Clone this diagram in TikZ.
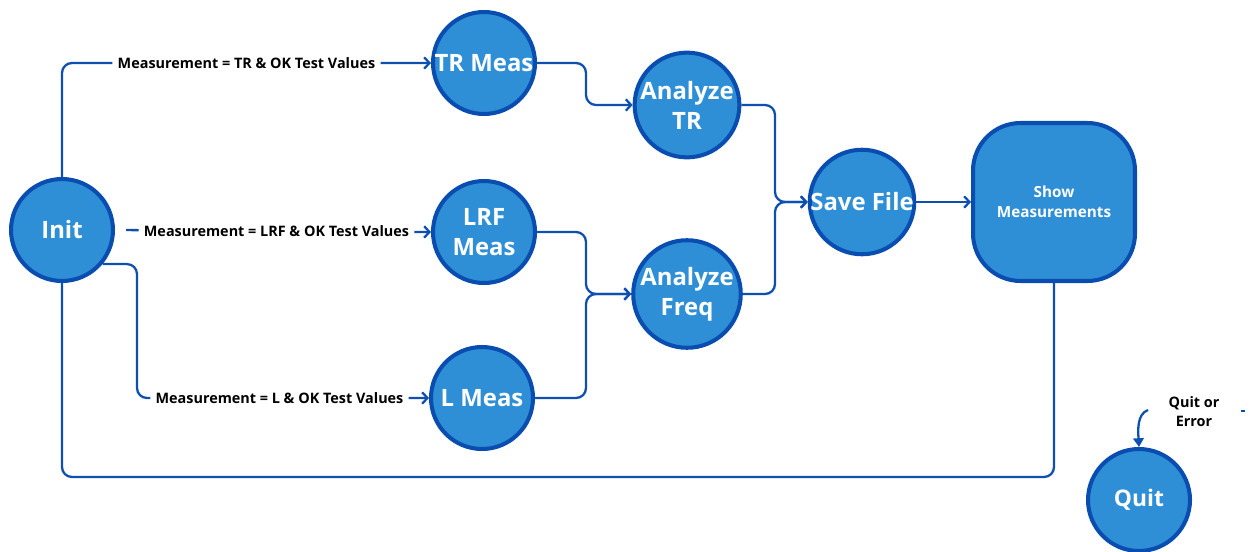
\documentclass[tikz,border=0pt]{standalone}
\usepackage{fontspec}
\setmainfont{Open Sans}
\usetikzlibrary{
  arrows.meta,
  positioning,
  calc
}
\definecolor{fsFill}{HTML}{2E8ED6}
\definecolor{fsEdge}{HTML}{0A4DB0}
\definecolor{fsLine}{HTML}{0E4FB2}
\tikzset{
  fsnode/.style={
    circle, draw=fsEdge, fill=fsFill, line width=2.3pt, minimum size=2.04cm,
    inner sep=0pt, align=center, text=white,
    font=\fontsize{13.6}{17}\selectfont\bfseries
  },
  fsbig/.style={fsnode, rectangle, rounded corners=0.95cm,
    minimum width=3.24cm, minimum height=3.16cm,
    font=\fontsize{8.7}{11.4}\selectfont\bfseries},
  flow/.style={-{Straight Barb[length=3pt,width=6.5pt]}, line width=1.3pt, fsLine, rounded corners=0.2cm},
  backline/.style={line width=1.3pt, fsLine, rounded corners=0.2cm},
  quitflow/.style={-{Triangle[length=5pt,width=6pt]}, line width=1.3pt, fsLine},
  cond/.style={font=\fontsize{8.2}{10}\selectfont\bfseries, text=black, fill=white, inner sep=3pt},
  note/.style={font=\fontsize{8.2}{10.8}\selectfont\bfseries, text=black, align=center}
}
\begin{document}
\begin{tikzpicture}[x=0.02cm, y=-0.02cm]
  \useasboundingbox (0,0) rectangle (1254,551);

  % states
  \node[fsnode] (init) at (62,230) {Init};
  \node[fsnode] (trmeas) at (484,63) {TR Meas};
  \node[fsnode] (lrfmeas) at (484,232) {LRF\\Meas};
  \node[fsnode] (lmeas) at (482,398) {L Meas};
  \node[fsnode] (antr) at (687,105) {Analyze\\TR};
  \node[fsnode] (anfreq) at (687,294) {Analyze\\Freq};
  \node[fsnode] (save) at (862,202) {Save File};
  \node[fsbig] (show) at (1054,202) {Show\\Measurements};
  \node[fsnode, font=\fontsize{13}{15}\selectfont\bfseries] (quit) at (1139,500) {Quit};
  \node[note] (quitnote) at (1194,412) {Quit or\\Error};

  \coordinate (ldrop) at (137,0);
  \coordinate (mjoin) at (586,0);
  \coordinate (sjoin) at (775,0);
  \coordinate (loopy) at (62,477);
  \coordinate (qstart) at (1148,410);

  % measurement branches
  \draw[flow] (init.north) |- node[cond, pos=0.75] {Measurement = TR \& OK Test Values} (trmeas.west);
  \draw[flow, shorten <=0.22cm] (init.east) -- node[cond, xshift=2pt] {Measurement = LRF \& OK Test Values} (lrfmeas.west);
  \draw[flow] (init.-40) -- (init.-40 -| ldrop) |- node[cond, pos=0.75, xshift=-2pt] {Measurement = L \& OK Test Values} (lmeas.west);

  % analysis
  \draw[flow] (trmeas.east) -- (trmeas.east -| mjoin) |- (antr.west);
  \draw[flow] (lrfmeas.east) -- (lrfmeas.east -| mjoin) |- (anfreq.west);
  \draw[flow] (lmeas.east) -- (lmeas.east -| mjoin) |- (anfreq.west);
  \draw[flow] (antr.east) -- (antr.east -| sjoin) |- (save.west);
  \draw[flow] (anfreq.east) -- (anfreq.east -| sjoin) |- (save.west);
  \draw[flow] (save.east) -- (show.west);

  % back to init
  \draw[backline] (show.south) |- (loopy) -- (init.south);

  % quit
  \draw[quitflow] (qstart) .. controls (1137,414) and (1138,430) .. (quit.north);
  \draw[line width=1.3pt, fsLine] (1241,411) -- (1245,411);
\end{tikzpicture}
\end{document}
